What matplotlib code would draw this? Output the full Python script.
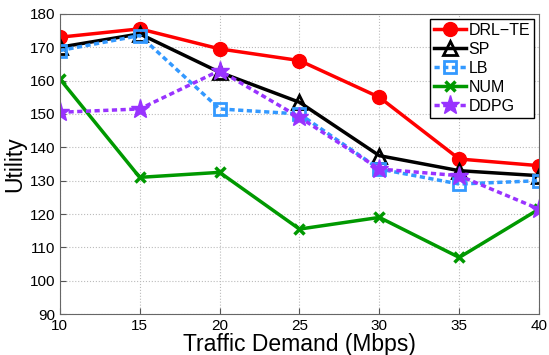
import matplotlib
matplotlib.use("Agg")
import matplotlib.pyplot as plt

plt.rcParams['font.family'] = ['Liberation Sans', 'DejaVu Sans']

demand = [10, 15, 20, 25, 30, 35, 40]
drl_te = [173.0, 175.5, 169.5, 166.0, 155.0, 136.5, 134.5]
sp = [170.0, 174.0, 162.5, 153.5, 137.5, 133.0, 131.5]
lb = [169.0, 173.5, 151.5, 150.0, 133.5, 129.0, 130.0]
num = [160.5, 131.0, 132.5, 115.5, 119.0, 107.0, 121.5]
ddpg = [150.5, 151.5, 163.0, 149.0, 133.5, 131.5, 121.5]

fig = plt.figure(figsize=(5.49, 3.55), dpi=100)
ax = fig.add_axes([0.109, 0.115, 0.873, 0.846])

ax.plot(demand, drl_te, color="#ff0000", lw=2.5, marker="o", ms=10, label="DRL\u2212TE")
ax.plot(demand, sp, color="black", lw=2.5, marker="^", ms=10, mfc="none", mew=2, label="SP")
ax.plot(demand, lb, color="#3399ff", lw=2.5, ls=(0, (1.5, 1)), marker="s", ms=8, mfc="none", mew=2, label="LB")
ax.plot(demand, num, color="#009900", lw=2.5, marker="x", ms=7, mew=2.5, label="NUM")
ax.plot(demand, ddpg, color="#9933ff", lw=2.5, ls=(0, (1.5, 1)), marker="*", ms=14, label="DDPG")

ax.set_xlim(10, 40)
ax.set_ylim(90, 180)
ax.set_xticks(demand)
ax.set_yticks(range(90, 181, 10))
ax.tick_params(labelsize=11, direction="in", length=4, color="#555555")
ax.grid(True, ls=":", color="#bbbbbb", lw=0.8)
for s in ax.spines.values():
    s.set_color("#666666")
ax.set_xlabel("Traffic Demand (Mbps)", fontsize=16.5, labelpad=0)
ax.set_ylabel("Utility", fontsize=16.5, labelpad=2)

leg = ax.legend(loc="upper right", fontsize=11.5, fancybox=False, framealpha=1,
                edgecolor="black", handlelength=2.0, borderpad=0.25, labelspacing=0.25,
                handletextpad=0.2, borderaxespad=0.3)
leg.get_frame().set_linewidth(1)

fig.savefig("out.png", dpi=100)
